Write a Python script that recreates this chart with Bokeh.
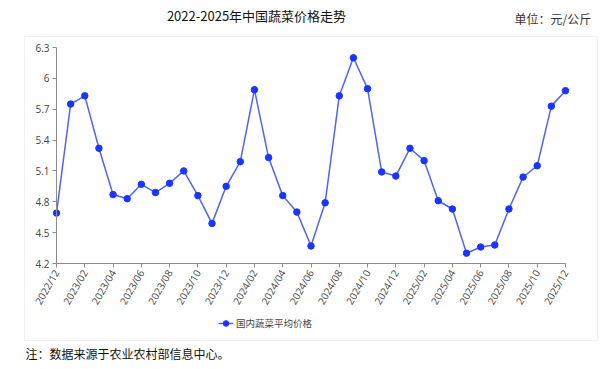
import math
from bokeh.plotting import figure
from bokeh.models import (ColumnDataSource, FixedTicker, Range1d, Label,
                          BoxAnnotation)
from bokeh.embed import file_html
from bokeh.resources import INLINE

months = ["2022/12",
          "2023/01", "2023/02", "2023/03", "2023/04", "2023/05", "2023/06",
          "2023/07", "2023/08", "2023/09", "2023/10", "2023/11", "2023/12",
          "2024/01", "2024/02", "2024/03", "2024/04", "2024/05", "2024/06",
          "2024/07", "2024/08", "2024/09", "2024/10", "2024/11", "2024/12",
          "2025/01", "2025/02", "2025/03", "2025/04", "2025/05", "2025/06",
          "2025/07", "2025/08", "2025/09", "2025/10", "2025/11", "2025/12"]
prices = [4.69, 5.75, 5.83, 5.32, 4.87, 4.83, 4.97, 4.89, 4.98, 5.10, 4.86,
          4.59, 4.95, 5.19, 5.89, 5.23, 4.86, 4.70, 4.37, 4.79, 5.83, 6.20,
          5.90, 5.09, 5.05, 5.32, 5.20, 4.81, 4.73, 4.30, 4.36, 4.38, 4.73,
          5.04, 5.15, 5.73, 5.88]
y_min, y_max = 4.2, 6.3
y_ticks = [4.2, 4.5, 4.8, 5.1, 5.4, 5.7, 6.0, 6.3]
y_tick_labels = ["4.2", "4.5", "4.8", "5.1", "5.4", "5.7", "6", "6.3"]
title_text = "2022-2025年中国蔬菜价格走势"
unit_text = "单位：元/公斤"
note_text = "注：数据来源于农业农村部信息中心。"
series_name = "国内蔬菜平均价格"

n = len(months)
idx = list(range(n))
src = ColumnDataSource(dict(x=idx, y=prices, m=months))

# canvas geometry (pixels); frame covers the whole canvas
W, H = 600, 365
PX_L, PX_R = 56, 565      # x of first / last month
PY_T, PY_B = 47, 263      # y of y_max / y_min
xs = (PX_R - PX_L) / (n - 1)
ys = (PY_B - PY_T) / (y_max - y_min)
x_rng = Range1d(0 - PX_L / xs, (n - 1) + (W - PX_R) / xs)
y_rng = Range1d(y_min - (H - PY_B) / ys, y_max + PY_T / ys)

p = figure(width=W, height=H, output_backend="svg", toolbar_location=None,
           x_range=x_rng, y_range=y_rng, min_border=0)
p.title.visible = False
p.outline_line_color = None
p.xgrid.grid_line_color = None
p.ygrid.grid_line_color = None
p.background_fill_color = "white"
p.border_fill_color = "white"

CJK = "Noto Sans CJK SC"
LINE_COL = "#4f63f7"
DOT_COL = "#1a35ff"

# outer box (screen units from bottom-left of canvas)
p.add_layout(BoxAnnotation(left=24, right=597, top=H - 36, bottom=H - 340,
                           left_units="screen", right_units="screen",
                           top_units="screen", bottom_units="screen",
                           fill_alpha=0, line_color="#d4d4d4", line_width=1,
                           level="underlay"))

p.line("x", "y", source=src, line_color=LINE_COL, line_width=1.5,
       legend_label=series_name)
p.scatter("x", "y", source=src, size=6.5, fill_color=DOT_COL,
          line_color=DOT_COL, legend_label=series_name)

# axes placed at data positions
even = [i for i in idx if i % 2 == 0]
xa, ya = p.xaxis[0], p.yaxis[0]
xa.fixed_location = y_min
xa.bounds = (0, n - 1)
ya.fixed_location = 0
ya.bounds = (y_min, y_max)
xa.ticker = FixedTicker(ticks=even)
xa.major_label_overrides = {i: months[i] for i in even}
xa.major_label_orientation = math.pi / 3
ya.ticker = FixedTicker(ticks=y_ticks)
ya.major_label_overrides = {t: l for t, l in zip(y_ticks, y_tick_labels)}
for ax in (xa, ya):
    ax.axis_line_color = "#8c8c8c"
    ax.major_tick_line_color = "#8c8c8c"
    ax.major_tick_out = 4
    ax.major_tick_in = 0
    ax.minor_tick_line_color = None
    ax.major_label_text_font = "Open Sans"
    ax.major_label_text_font_size = "10px"
    ax.major_label_text_color = "#444444"
    ax.major_label_standoff = 3

# legend
lg = p.legend[0]
lg.location = (218, H - 330)
lg.border_line_color = None
lg.background_fill_alpha = 0
lg.padding = 0
lg.margin = 0
lg.glyph_width = 15
lg.glyph_height = 14
lg.label_height = 14
lg.label_standoff = 3
lg.label_text_font = CJK
lg.label_text_font_size = "9.5px"
lg.label_text_color = "#444444"

p.add_layout(Label(x=256, y=H - 15, x_units="screen", y_units="screen",
                   text=title_text, text_align="center",
                   text_baseline="middle", text_font=CJK,
                   text_font_size="13px", text_color="#111111"))
p.add_layout(Label(x=514, y=H - 18, x_units="screen", y_units="screen",
                   text=unit_text, text_align="left",
                   text_baseline="middle", text_font=CJK,
                   text_font_size="12px", text_color="#333333"))
p.add_layout(Label(x=25, y=H - 353, x_units="screen", y_units="screen",
                   text=note_text, text_align="left",
                   text_baseline="middle", text_font=CJK,
                   text_font_size="12px", text_color="#111111"))

open("out.html", "w").write(file_html(p, INLINE))
